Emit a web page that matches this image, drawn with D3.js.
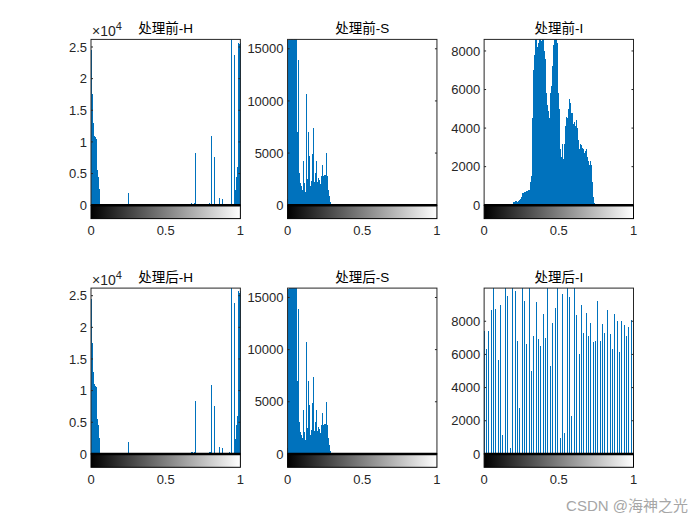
<!DOCTYPE html>
<html><head><meta charset="utf-8">
<script src="https://cdn.jsdelivr.net/npm/d3@7"></script>
<style>body{margin:0;background:#fff}svg{display:block}</style>
</head><body>
<svg id="c" width="700" height="525"></svg>
<script>
// ---------- data (256-bin histograms, counts per bin) ----------
const hBefore = [
24500,18000,17500,13500,13000,11200,11000,10800,10000,10500,6000,5500,4500,3000,2500,800,
200,0,0,0,0,0,0,0,0,0,0,0,0,0,0,0,
0,0,0,0,0,0,0,0,0,0,0,0,0,0,0,0,
0,0,0,0,0,0,0,0,0,0,0,0,0,0,0,0,
1900,0,0,0,0,0,0,0,0,0,0,0,0,0,0,0,
0,0,0,0,0,0,0,0,0,0,0,0,0,0,0,0,
0,0,0,0,0,0,0,0,0,0,0,0,0,0,0,0,
0,0,0,0,0,0,0,0,0,0,0,0,0,0,0,0,
0,0,0,0,0,0,0,0,0,0,0,0,0,0,0,0,
0,0,0,0,0,0,0,0,0,0,0,0,0,0,0,0,
0,0,0,0,0,0,0,0,0,0,0,300,0,0,250,0,
300,0,8300,0,0,0,0,0,0,0,0,0,0,0,0,0,
0,0,0,0,0,0,0,0,0,0,0,300,250,0,10900,0,
0,0,0,7600,0,0,0,0,0,0,0,0,1100,0,0,0,
0,1000,0,0,0,0,0,0,200,0,0,0,250,0,0,0,
30000,0,0,200,0,23800,1500,2400,3500,4500,6000,25600,25700,25500,25000,25700];

const sBefore = [
600,14500,15800,21000,24000,26000,25000,23000,27000,24000,22000,20000,19000,18000,17500,17000,
16500,7000,3500,13900,3100,2500,2100,1600,1800,1200,1500,2600,4200,2100,1100,1300,
2000,10700,2500,7000,1300,2200,4700,1600,1800,2300,4900,1500,2000,7400,2200,3100,
2600,2000,4200,2200,2600,1700,2400,1500,1200,2000,2800,3900,2400,2800,2300,2900,
2600,2900,5000,2700,2800,2000,1500,900,500,300,150,0,0,0,0,0,
0,0,0,0,0,0,0,0,0,0,0,0,0,0,0,0,
0,0,0,0,0,0,0,0,0,0,0,0,0,0,0,0,
0,0,0,0,0,0,0,0,0,0,0,0,0,0,0,0,
0,0,0,0,0,0,0,0,0,0,0,0,0,0,0,0,
0,0,0,0,0,0,0,0,0,0,0,0,0,0,0,0,
0,0,0,0,0,0,0,0,0,0,0,0,0,0,0,0,
0,0,0,0,0,0,0,0,0,0,0,0,0,0,0,0,
0,0,0,0,0,0,0,0,0,0,0,0,0,0,0,0,
0,0,0,0,0,0,0,0,0,0,0,0,0,0,0,0,
0,0,0,0,0,0,0,0,0,0,0,0,0,0,0,0,
0,0,0,0,0,0,0,0,0,0,0,0,0,0,0,0];

const iBefore = [
0,0,0,0,0,0,0,0,0,0,0,0,0,0,0,0,
0,0,0,0,0,0,0,0,0,0,0,0,0,0,0,0,
0,0,0,0,0,0,0,0,0,0,0,0,0,0,0,0,
0,0,120,150,170,200,180,220,170,160,180,200,220,250,300,350,
400,600,620,640,650,660,680,700,690,720,740,760,780,800,780,950,
1200,1500,3200,4500,5600,7000,7800,9000,9500,9200,8800,8200,7700,8400,9000,9300,
8600,7900,8500,9000,9100,8800,8400,8000,7600,6500,5800,4300,4600,5200,4900,4100,
4500,4800,5800,6200,6700,7200,7700,8300,8800,9200,9400,9000,8700,8400,6700,5800,
5000,3800,2900,2600,2500,2900,3200,2400,1500,2600,3200,4100,4400,4600,4500,4300,
5000,5300,5500,5300,5200,4800,4600,4800,4200,3900,4100,4300,4100,4200,4400,4000,
3900,3400,2900,2700,2500,3200,3100,3000,2950,2900,2200,2500,2700,2800,2900,2600,
2400,2500,2300,2200,2100,2000,2300,2100,2000,1200,430,200,90,0,0,0,
0,0,0,0,0,0,0,0,0,0,0,0,0,0,0,0,
0,0,0,0,0,0,0,0,0,0,0,0,0,0,0,0,
0,0,0,0,0,0,0,0,0,0,0,0,0,0,0,0,
0,0,0,0,0,0,0,0,0,0,0,0,0,0,0,0];

// after processing: H and S histograms are unchanged
const hAfter = hBefore.slice();
const sAfter = sBefore.slice();
// equalized intensity: 64 output levels
const iAfterLevels = d3.range(64).map(k => Math.round(k * 255 / 63));
const iAfter = [7400,6300,7400,8660,10600,8720,5690,9000,1170,10800,9500,360,10400,9850,6800,2770,
10900,9250,6600,10500,5030,7100,9150,6950,6530,8460,7000,10700,5290,7920,8800,10600,
965,9650,1270,10800,9450,2310,10500,8360,6050,9000,7300,8500,7100,7900,6730,6800,
9250,6800,7840,7300,8660,7260,6350,8460,8040,6130,8000,7800,7100,7640,8100,7600];

const bins256 = d3.range(256);
const titles = ["处理前-H","处理前-S","处理前-I","处理后-H","处理后-S","处理后-I"];
const yMaxes = [26200, 15900, 8600, 26200, 15900, 10000];
const yTicksH = [0,5000,10000,15000,20000,25000];
const yTicksS = [0,5000,10000,15000];
const yTicksI = [0,2000,4000,6000,8000];
const xTicks = [0,0.5,1];

const panels = [
  {title:titles[0], bins:bins256, vals:hBefore, yMax:yMaxes[0], ticks:yTicksH, exp:true},
  {title:titles[1], bins:bins256, vals:sBefore, yMax:yMaxes[1], ticks:yTicksS, exp:false},
  {title:titles[2], bins:bins256, vals:iBefore, yMax:yMaxes[2], ticks:yTicksI, exp:false},
  {title:titles[3], bins:bins256, vals:hAfter, yMax:yMaxes[3], ticks:yTicksH, exp:true},
  {title:titles[4], bins:bins256, vals:sAfter, yMax:yMaxes[4], ticks:yTicksS, exp:false},
  {title:titles[5], bins:iAfterLevels, vals:iAfter, yMax:yMaxes[5], ticks:yTicksI, exp:false}
];

// ---------- layout ----------
const W = 700;
const colLeft = [0.13, 0.4108, 0.6916].map(v => v * W);
const pw = 0.2134 * W;
const rowTop = [39.4, 288.1];
const histH = 165.8, cbH = 13.4;
const numFont = '"Liberation Sans", Arial, Helvetica, sans-serif';
const axisCol = '#262626';
const blue = '#0072BD';
const fs = 13;

const svg = d3.select('#c');
const defs = svg.append('defs');
const grad = defs.append('linearGradient').attr('id','gray').attr('x1','0%').attr('x2','100%').attr('y1','0%').attr('y2','0%');
grad.append('stop').attr('offset','0%').attr('stop-color','#000');
grad.append('stop').attr('offset','100%').attr('stop-color','#fff');

panels.forEach((p, idx) => {
  const r = Math.floor(idx / 3), c = idx % 3;
  const x0 = colLeft[c], y0 = rowTop[r];
  const x = d3.scaleLinear().domain([0, 1]).range([x0, x0 + pw]);
  const y = d3.scaleLinear().domain([0, p.yMax]).range([y0 + histH, y0]);
  const g = svg.append('g');

  defs.append('clipPath').attr('id', 'clip' + idx)
    .append('rect').attr('x', x0 - 1).attr('y', y0).attr('width', pw + 2).attr('height', histH);

  // stems
  const pts = p.bins.map((b, i) => ({b, v: p.vals[i]})).filter(d => d.v > 0);
  g.append('g').attr('clip-path', 'url(#clip' + idx + ')')
    .selectAll('line').data(pts).join('line')
    .attr('x1', d => x(d.b / 255)).attr('x2', d => x(d.b / 255))
    .attr('y1', y(0)).attr('y2', d => y(d.v))
    .attr('stroke', blue).attr('stroke-width', 1)
    .attr('shape-rendering', 'crispEdges');

  // axes box
  g.append('rect').attr('x', x0).attr('y', y0).attr('width', pw).attr('height', histH)
    .attr('fill', 'none').attr('stroke', axisCol).attr('stroke-width', 1);

  // y ticks
  const yt = g.append('g');
  p.ticks.forEach(t => {
    const yy = y(t);
    yt.append('line').attr('x1', x0).attr('x2', x0 + 2).attr('y1', yy).attr('y2', yy).attr('stroke', axisCol);
    yt.append('line').attr('x1', x0 + pw).attr('x2', x0 + pw - 2).attr('y1', yy).attr('y2', yy).attr('stroke', axisCol);
    yt.append('text').attr('x', x0 - 4).attr('y', yy + 4.7)
      .attr('text-anchor', 'end').attr('font-family', numFont).attr('font-size', fs)
      .attr('fill', axisCol)
      .text(p.exp ? d3.format('')(t / 10000) : t);
  });
  if (p.exp) {
    const ex = g.append('text').attr('x', x0 + 1).attr('y', y0 - 3.5)
      .attr('font-family', numFont).attr('font-size', 14).attr('fill', axisCol);
    ex.append('tspan').text('\u00d710');
    ex.append('tspan').attr('dy', -6).attr('font-size', 11).text('4');
  }

  // colorbar
  const cbY = y0 + histH;
  g.append('rect').attr('x', x0).attr('y', cbY).attr('width', pw).attr('height', cbH)
    .attr('fill', 'url(#gray)').attr('stroke', '#000').attr('stroke-width', 1);
  // baseline
  g.append('line').attr('x1', x0).attr('x2', x0 + pw).attr('y1', y(0)).attr('y2', y(0))
    .attr('stroke', '#000').attr('stroke-width', 2.5);

  // x tick labels
  xTicks.forEach(t => {
    g.append('text').attr('x', x(t)).attr('y', cbY + cbH + 16.5)
      .attr('text-anchor', 'middle').attr('font-family', numFont).attr('font-size', fs)
      .attr('fill', axisCol).text(t);
  });

  // title
  g.append('text').attr('x', x0 + pw / 2).attr('y', y0 - 6)
    .attr('text-anchor', 'middle')
    .attr('font-family', '"Liberation Sans", "Noto Sans CJK SC", sans-serif')
    .attr('font-size', 13.5).attr('fill', '#000').text(p.title);
});

// watermark
svg.append('text').attr('x', 688).attr('y', 511).attr('text-anchor', 'end')
  .attr('font-family', '"Liberation Sans", "Noto Sans CJK SC", sans-serif')
  .attr('font-size', 15).attr('fill', '#a6a6a6').text('CSDN @海神之光');
</script>
</body></html>
